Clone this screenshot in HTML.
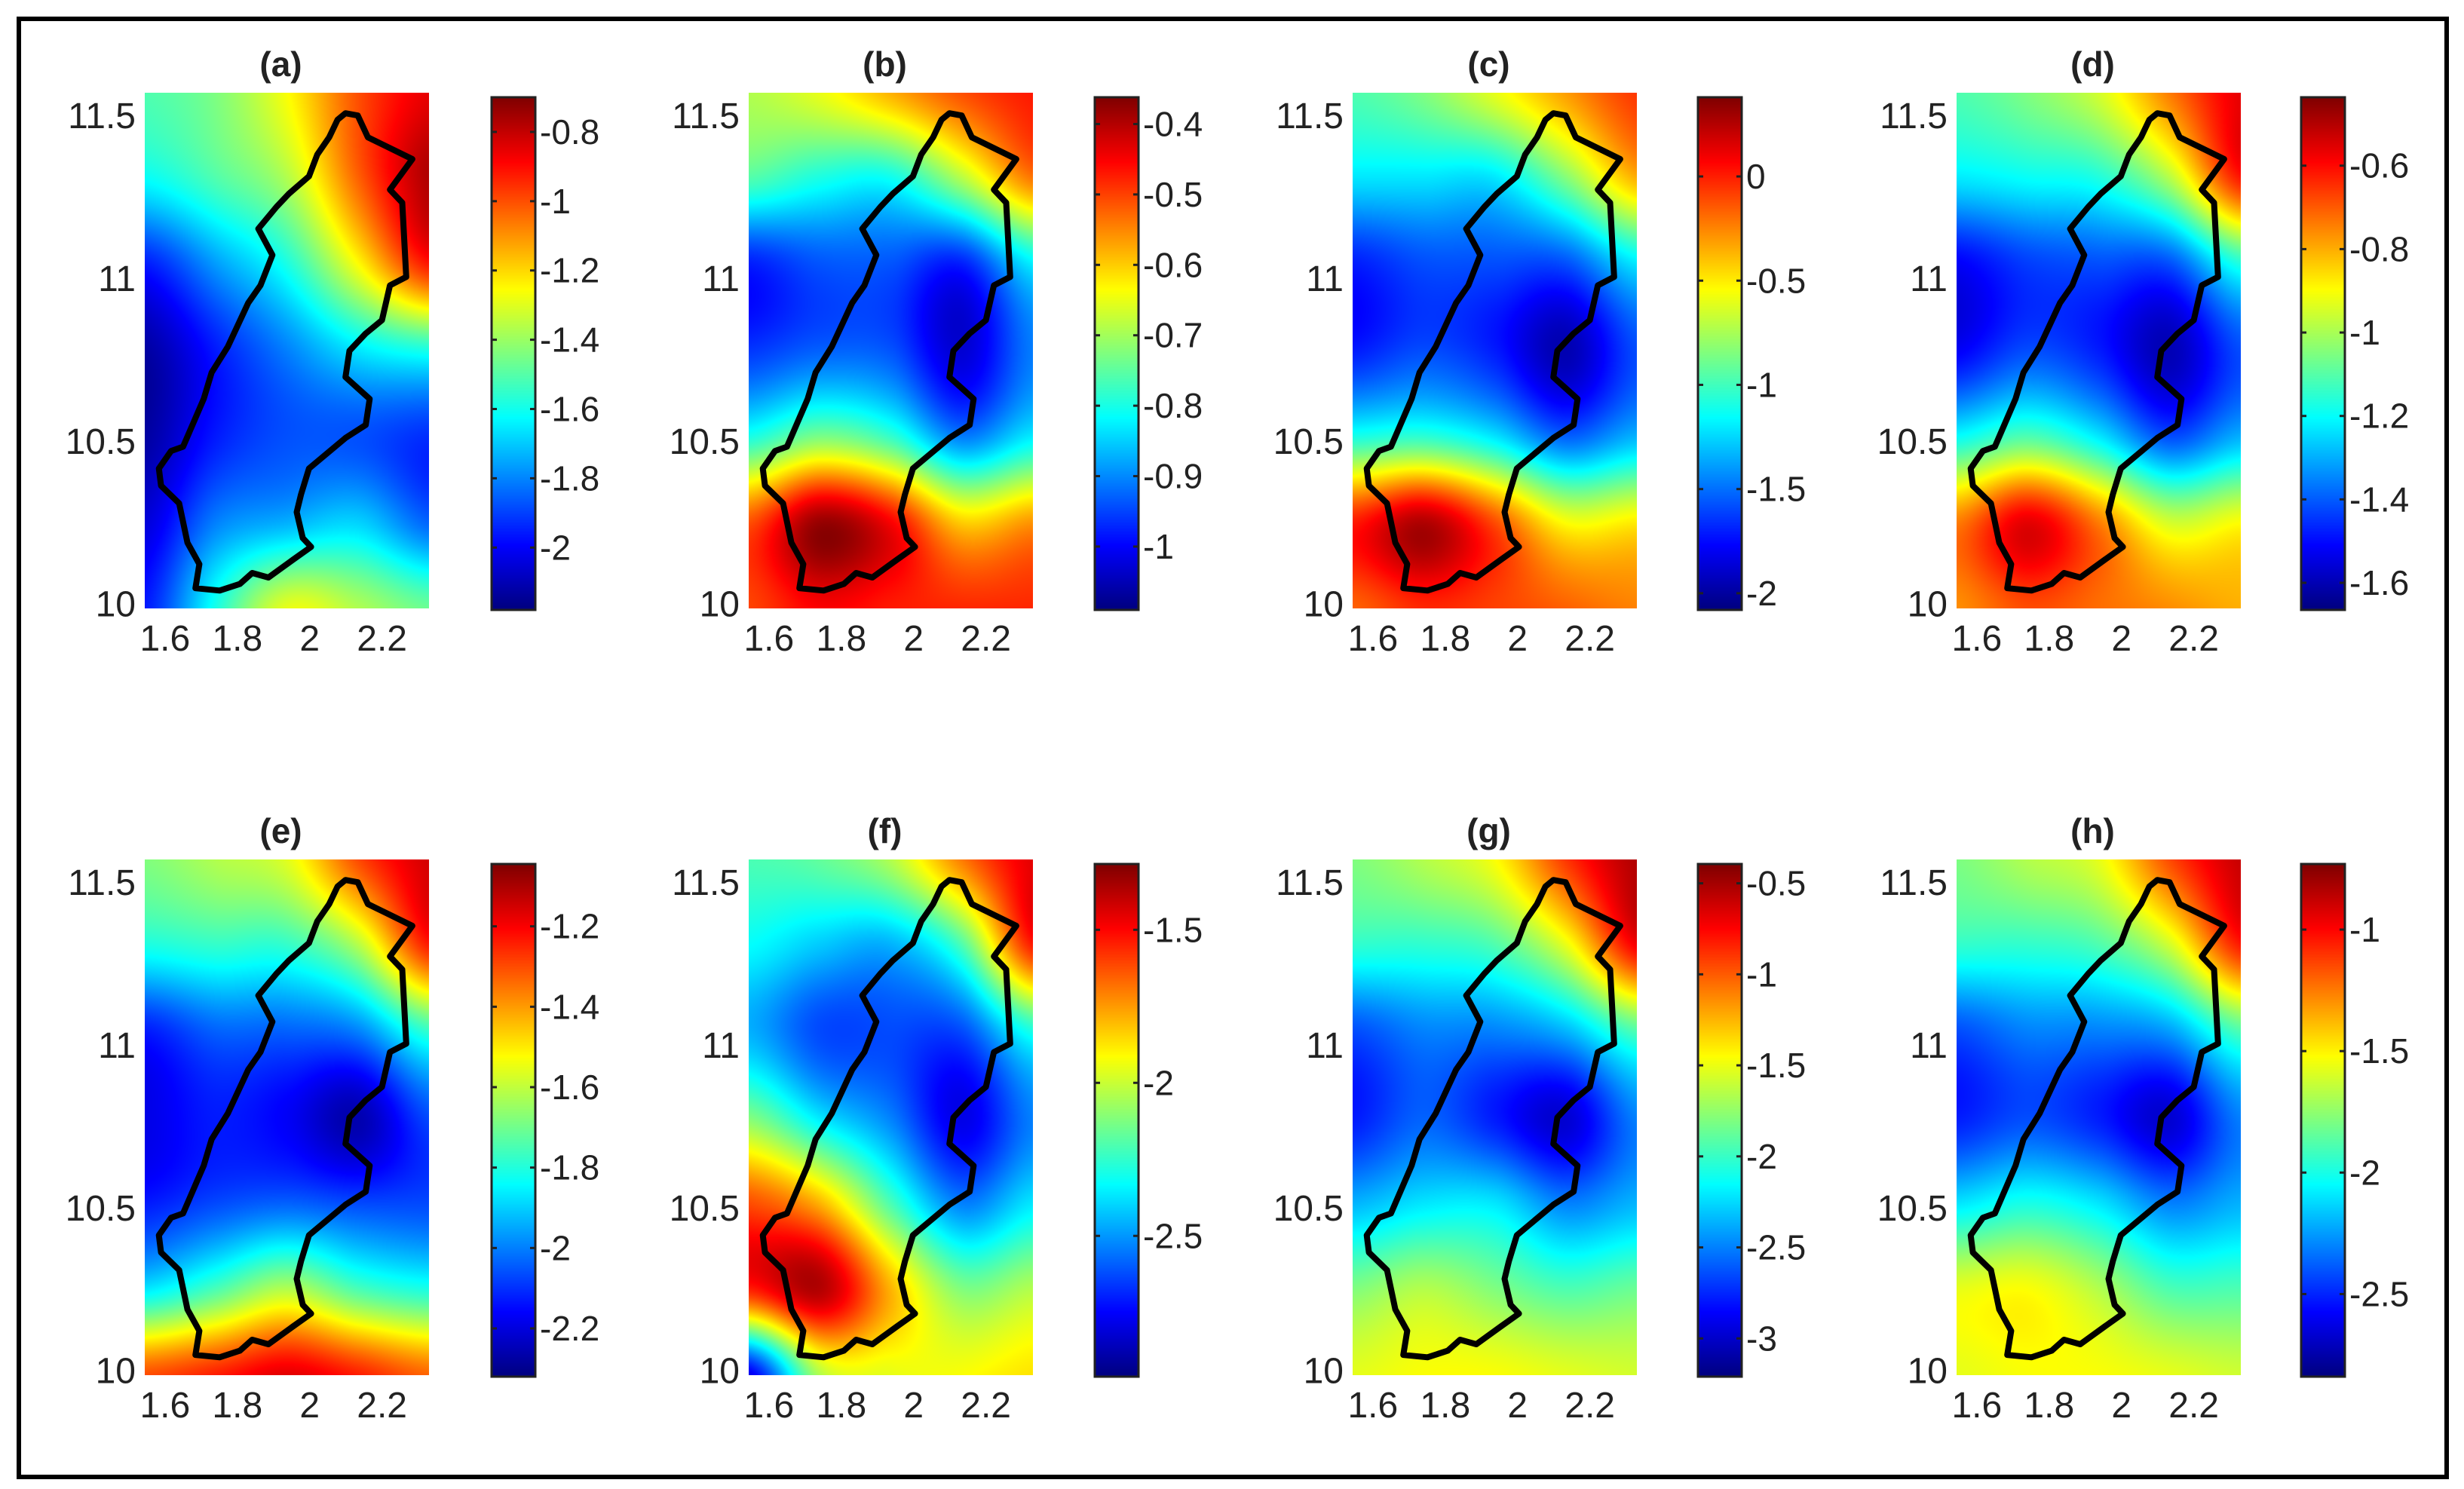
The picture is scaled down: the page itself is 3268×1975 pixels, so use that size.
<!DOCTYPE html>
<html><head><meta charset="utf-8">
<style>
html,body{margin:0;padding:0;background:#fff;}
#root{position:relative;width:3268px;height:1975px;overflow:hidden;background:#fff;font-family:"Liberation Sans",Arial,sans-serif;}
canvas{position:absolute;}
svg{position:absolute;left:0;top:0;}
</style></head>
<body>
<div id="root">
<svg id="ov" width="3268" height="1975"></svg>
</div>
<script>
// ---- data ----
const titles = ["(a)","(b)","(c)","(d)","(e)","(f)","(g)","(h)"];
const cMin = [-2.18,-1.09,-2.08,-1.665,-2.32,-2.96,-3.21,-2.84];
const cMax = [-0.70,-0.362,0.38,-0.436,-1.045,-1.285,-0.394,-0.73];
const ticksA = [-0.8,-1,-1.2,-1.4,-1.6,-1.8,-2];
const ticksB = [-0.4,-0.5,-0.6,-0.7,-0.8,-0.9,-1];
const ticksC = [0,-0.5,-1,-1.5,-2];
const ticksD = [-0.6,-0.8,-1,-1.2,-1.4,-1.6];
const ticksE = [-1.2,-1.4,-1.6,-1.8,-2,-2.2];
const ticksF = [-1.5,-2,-2.5];
const ticksG = [-0.5,-1,-1.5,-2,-2.5,-3];
const ticksH = [-1,-1.5,-2,-2.5];
const xTicks = [1.6,1.8,2,2.2];
const yTicks = [10,10.5,11,11.5];
// grids: rows top (north) to bottom, 5 columns west to east
const gridA = [
[-1.51,-1.44,-1.26,-1.00,-0.85],
[-1.62,-1.51,-1.37,-1.03,-0.77],
[-1.96,-1.77,-1.59,-1.26,-0.92],
[-2.13,-1.96,-1.81,-1.66,-1.59],
[-2.13,-1.96,-1.88,-1.88,-1.93],
[-2.05,-1.81,-1.74,-1.69,-1.85],
[-1.96,-1.59,-1.29,-1.37,-1.47]];
const gridB = [
[-0.69,-0.65,-0.58,-0.51,-0.47],
[-0.76,-0.80,-0.81,-0.69,-0.54],
[-0.98,-0.94,-0.94,-0.98,-0.83],
[-0.96,-0.93,-0.94,-1.03,-0.91],
[-0.80,-0.73,-0.78,-0.91,-0.83],
[-0.51,-0.38,-0.45,-0.60,-0.56],
[-0.50,-0.45,-0.47,-0.48,-0.48]];
const gridC = [
[-0.97,-0.85,-0.60,-0.31,-0.06],
[-1.22,-1.22,-1.22,-0.85,-0.36],
[-1.71,-1.59,-1.59,-1.59,-1.22],
[-1.71,-1.59,-1.71,-1.96,-1.59],
[-1.10,-1.05,-1.22,-1.54,-1.34],
[0.01,0.26,-0.11,-0.55,-0.50],
[-0.16,-0.02,-0.08,-0.16,-0.24]];
const gridD = [
[-1.11,-1.05,-0.95,-0.74,-0.56],
[-1.23,-1.20,-1.17,-0.99,-0.62],
[-1.52,-1.44,-1.42,-1.42,-1.17],
[-1.52,-1.42,-1.48,-1.60,-1.42],
[-1.20,-1.11,-1.23,-1.42,-1.30],
[-0.74,-0.56,-0.74,-0.95,-0.90],
[-0.76,-0.68,-0.72,-0.76,-0.80]];
const gridE = [
[-1.68,-1.62,-1.56,-1.30,-1.15],
[-1.81,-1.78,-1.78,-1.62,-1.24],
[-2.13,-2.04,-2.04,-2.00,-1.78],
[-2.19,-2.13,-2.17,-2.26,-2.07],
[-2.13,-2.07,-2.04,-2.07,-2.07],
[-1.87,-1.75,-1.62,-1.75,-1.81],
[-1.30,-1.24,-1.17,-1.24,-1.33]];
const gridF = [
[-2.21,-2.17,-2.04,-1.70,-1.45],
[-2.33,-2.42,-2.46,-2.21,-1.54],
[-2.46,-2.63,-2.63,-2.63,-2.29],
[-2.12,-2.37,-2.54,-2.79,-2.54],
[-1.62,-1.79,-2.21,-2.54,-2.37],
[-1.54,-1.37,-1.79,-2.12,-2.04],
[-2.79,-2.04,-1.95,-1.92,-1.87]];
const gridG = [
[-1.80,-1.66,-1.46,-0.90,-0.53],
[-2.03,-2.03,-1.94,-1.52,-0.73],
[-2.65,-2.50,-2.50,-2.36,-1.94],
[-2.79,-2.59,-2.79,-2.98,-2.50],
[-2.36,-2.22,-2.22,-2.50,-2.36],
[-1.80,-1.66,-1.80,-1.94,-1.86],
[-1.52,-1.46,-1.46,-1.52,-1.57]];
const gridH = [
[-1.79,-1.68,-1.57,-1.15,-0.88],
[-1.95,-1.95,-1.89,-1.62,-1.05],
[-2.42,-2.31,-2.31,-2.25,-1.89],
[-2.52,-2.42,-2.52,-2.67,-2.31],
[-2.10,-2.00,-2.10,-2.31,-2.21],
[-1.57,-1.53,-1.68,-1.89,-1.89],
[-1.57,-1.53,-1.53,-1.57,-1.62]];
const outlineLon = [2.099,2.133,2.161,2.284,2.222,2.256,2.267,2.222,2.2,2.155,2.110,2.099,2.166,2.155,2.099,1.998,1.976,1.964,1.981,2.004,1.953,1.886,1.841,1.807,1.751,1.684,1.695,1.662,1.639,1.589,1.583,1.617,1.650,1.707,1.729,1.774,1.830,1.864,1.897,1.858,1.908,1.942,1.998,2.021,2.054,2.077];
const outlineLat = [11.507,11.5,11.433,11.366,11.272,11.232,11.004,10.978,10.871,10.830,10.777,10.696,10.629,10.549,10.509,10.415,10.335,10.281,10.201,10.174,10.134,10.080,10.094,10.060,10.040,10.047,10.121,10.187,10.308,10.362,10.415,10.469,10.482,10.629,10.710,10.790,10.924,10.978,11.071,11.152,11.219,11.259,11.313,11.380,11.433,11.487];

const grids=[gridA,gridB,gridC,gridD,gridE,gridF,gridG,gridH];
const ticks=[ticksA,ticksB,ticksC,ticksD,ticksE,ticksF,ticksG,ticksH];

// ---- layout ----
const X0=1.544, X1=2.33, Y0=9.985, Y1=11.57;
const MAPW=377, MAPH=684, CBW=58;
const NS='http://www.w3.org/2000/svg';
const root=document.getElementById('root');
const ov=document.getElementById('ov');
function clamp(v){return v<0?0:v>1?1:v;}
function jet(t){t=clamp(t);return [clamp(1.5-Math.abs(4*t-3)),clamp(1.5-Math.abs(4*t-2)),clamp(1.5-Math.abs(4*t-1))];}
function cr(p0,p1,p2,p3,t){return 0.5*((2*p1)+(-p0+p2)*t+(2*p0-5*p1+4*p2-p3)*t*t+(-p0+3*p1-3*p2+p3)*t*t*t);}
function sample(g,u,v){
  const R=g.length,C=g[0].length;
  const i=Math.min(Math.floor(v),R-2), j=Math.min(Math.floor(u),C-2);
  const fv=v-i, fu=u-j;
  const gr=(r,c)=>g[Math.max(0,Math.min(R-1,r))][Math.max(0,Math.min(C-1,c))];
  const rows=[];
  for(let k=-1;k<3;k++){rows.push(cr(gr(i+k,j-1),gr(i+k,j),gr(i+k,j+1),gr(i+k,j+2),fu));}
  return cr(rows[0],rows[1],rows[2],rows[3],fv);
}
function svgEl(tag,attrs,parent){const e=document.createElementNS(NS,tag);for(const k in attrs)e.setAttribute(k,attrs[k]);(parent||ov).appendChild(e);return e;}
function fmt(v){return String(v);}

const fr=svgEl('rect',{x:25,y:25,width:3220,height:1934,fill:'none',stroke:'#000','stroke-width':6});



for(let p=0;p<8;p++){
  const col=p%4,row=Math.floor(p/4);
  const mx=192+801*col, my=123+1017*row;
  const cbx=652+800*col, cby=my+6, cbh=MAPH-4;
  const sx=v=>mx+(v-X0)/(X1-X0)*MAPW;
  const sy=v=>my+(Y1-v)/(Y1-Y0)*MAPH;
  const g=grids[p], lo=cMin[p], hi=cMax[p];
  const cv=document.createElement('canvas');
  cv.width=MAPW;cv.height=MAPH;cv.style.left=mx+'px';cv.style.top=my+'px';
  
  
  const ctx=cv.getContext('2d');const img=ctx.createImageData(MAPW,MAPH);
  const R=g.length,C=g[0].length;
  for(let y=0;y<MAPH;y++){for(let x=0;x<MAPW;x++){
    const val=sample(g,x/(MAPW-1)*(C-1),y/(MAPH-1)*(R-1));
    const c=jet((val-lo)/(hi-lo));const k=(y*MAPW+x)*4;
    img.data[k]=c[0]*255;img.data[k+1]=c[1]*255;img.data[k+2]=c[2]*255;img.data[k+3]=255;}}
  ctx.putImageData(img,0,0);
  root.insertBefore(cv,ov);
  const cb=document.createElement('canvas');
  cb.width=CBW;cb.height=cbh;cb.style.left=cbx+'px';cb.style.top=cby+'px';
  
  
  const bc=cb.getContext('2d');
  for(let y=0;y<cbh;y++){const c=jet(1-y/(cbh-1));bc.fillStyle=`rgb(${c[0]*255|0},${c[1]*255|0},${c[2]*255|0})`;bc.fillRect(0,y,CBW,1);}
  root.insertBefore(cb,ov);
  const cbr=svgEl('rect',{x:cbx,y:cby,width:CBW,height:cbh,fill:'none',stroke:'#222','stroke-width':3});
  
  
  ticks[p].forEach(v=>{
    const ty=cby+(hi-v)/(hi-lo)*cbh;
    const t1=svgEl('line',{x1:cbx,x2:cbx+7,y1:ty,y2:ty,stroke:'#222','stroke-width':3});
    
    
    const t2=svgEl('line',{x1:cbx+CBW-7,x2:cbx+CBW,y1:ty,y2:ty,stroke:'#222','stroke-width':3});
    
    
    const tl=svgEl('text',{x:cbx+CBW+6,y:ty+16,'font-size':46,fill:'#222'});
    tl.textContent=fmt(v);
    
    
  });
  const tt=svgEl('text',{x:mx+MAPW/2-8,y:my-22,'font-size':46,'font-weight':'bold','text-anchor':'middle',fill:'#222'});
  tt.textContent=titles[p];
  
  
  xTicks.forEach(v=>{
    const t=svgEl('text',{x:sx(v),y:my+MAPH+56,'font-size':48,'text-anchor':'middle',fill:'#222'});
    t.textContent=String(v);
    
    
  });
  yTicks.forEach(v=>{
    const t=svgEl('text',{x:mx-12,y:sy(v)+17,'font-size':48,'text-anchor':'end',fill:'#222'});
    t.textContent=String(v);
    
    
  });
  const pts=outlineLon.map((lo2,i)=>sx(lo2).toFixed(1)+','+sy(outlineLat[i]).toFixed(1)).join(' ');
  const pl=svgEl('polygon',{points:pts,fill:'none',stroke:'#000','stroke-width':8,'stroke-linejoin':'round'});
  
  
}
</script>
</body></html>
